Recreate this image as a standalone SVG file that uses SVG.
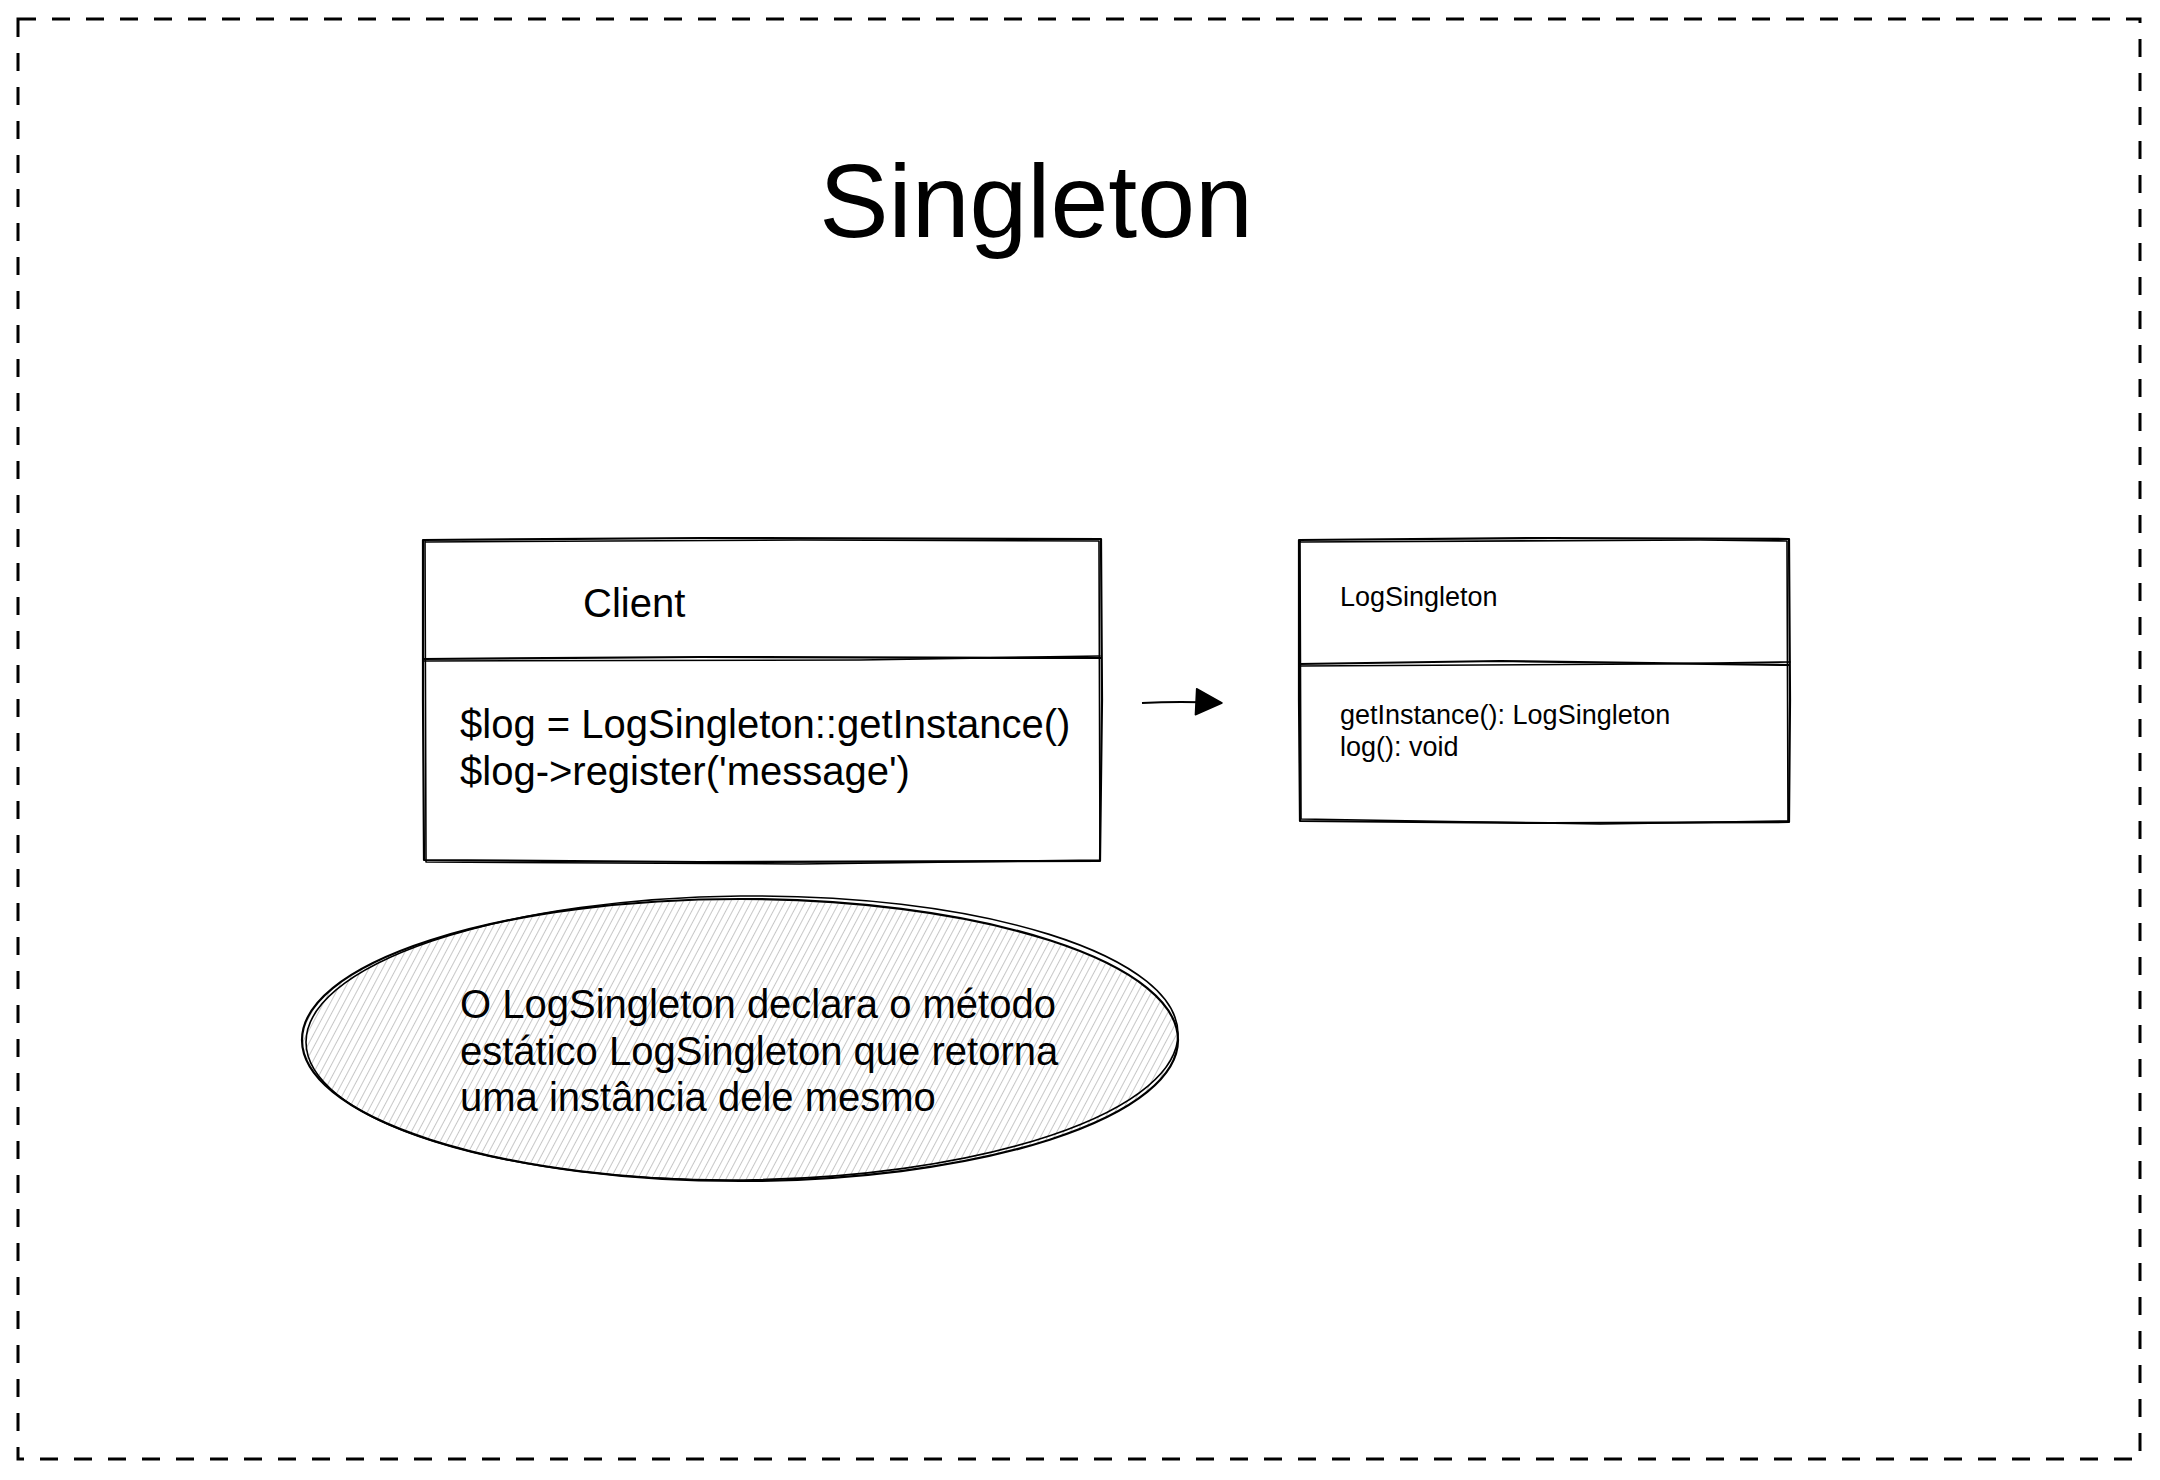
<svg xmlns="http://www.w3.org/2000/svg" width="2160" height="1480" viewBox="0 0 2160 1480">
<defs>
<style>
.t{font-family:"Liberation Sans",Arial,Helvetica,sans-serif;fill:#000}
.sk{fill:none;stroke:#000;stroke-width:2.2;stroke-linecap:round;stroke-linejoin:round}
.sk2{fill:none;stroke:#000;stroke-width:1.6;stroke-linecap:round;stroke-linejoin:round}
</style>
<pattern id="hatch" patternUnits="userSpaceOnUse" width="6" height="6" patternTransform="rotate(28)">
<line x1="0" y1="0" x2="0" y2="6" stroke="#a8a8a8" stroke-width="1.3"/>
</pattern>
<marker id="arr" markerWidth="30" markerHeight="30" refX="28" refY="15" orient="auto" markerUnits="userSpaceOnUse">
<path d="M2 2 L28 15 L2 28 Z" fill="#000" stroke="#000" stroke-width="1.5" stroke-linejoin="round"/>
</marker>
</defs>
<rect width="2160" height="1480" fill="#fff"/>
<g id="frame">
<rect x="18" y="19" width="2122" height="1440" fill="none" stroke="#000" stroke-width="3" stroke-dasharray="18 16"/>
</g>
<g id="title">
<text class="t" x="1036" y="237" font-size="104" text-anchor="middle">Singleton</text>
</g>
<g id="client">
<path class="sk" d="M423 540 L700 538 L1101 539 L1102 700 L1100 861 L700 862 L424 860 L423 700 Z"/>
<path class="sk2" d="M425 542 L800 540 L1099 541 L1100 860 L800 864 L426 862 L425 541"/>
<path class="sk" d="M423 659 L700 657 L1101 658"/>
<path class="sk2" d="M424 661 L860 660 L1100 656"/>
<text class="t" x="583" y="617" font-size="40">Client</text>
<text class="t" x="460" y="738" font-size="40">$log = LogSingleton::getInstance()</text>
<text class="t" x="460" y="785" font-size="40">$log-&gt;register('message')</text>
</g>
<g id="logsingleton">
<path class="sk" d="M1299 540 L1550 538 L1789 539 L1790 700 L1789 822 L1550 823 L1300 821 L1299 700 Z"/>
<path class="sk2" d="M1301 542 L1700 540 L1787 541 L1788 821 L1600 824 L1301 819 L1300 541"/>
<path class="sk" d="M1299 664 L1500 661 L1789 665"/>
<path class="sk2" d="M1300 666 L1650 664 L1790 662"/>
<text class="t" x="1340" y="606" font-size="27">LogSingleton</text>
<text class="t" x="1340" y="724" font-size="27">getInstance(): LogSingleton</text>
<text class="t" x="1340" y="756" font-size="27">log(): void</text>
</g>
<g id="note">
<ellipse cx="740" cy="1040" rx="437" ry="140" fill="url(#hatch)"/>
<ellipse class="sk" cx="740" cy="1040" rx="438" ry="141"/>
<ellipse class="sk2" cx="742" cy="1038" rx="436" ry="142" transform="rotate(-0.6 742 1038)"/>
<text class="t" x="460" y="1018" font-size="40">O LogSingleton declara o método</text>
<text class="t" x="460" y="1065" font-size="40">estático LogSingleton que retorna</text>
<text class="t" x="460" y="1111" font-size="40">uma instância dele mesmo</text>
</g>
<g id="connectors">
<path d="M1142 703 Q1180 701 1222 703" fill="none" stroke="#000" stroke-width="2.2" marker-end="url(#arr)"/>
</g>
</svg>
